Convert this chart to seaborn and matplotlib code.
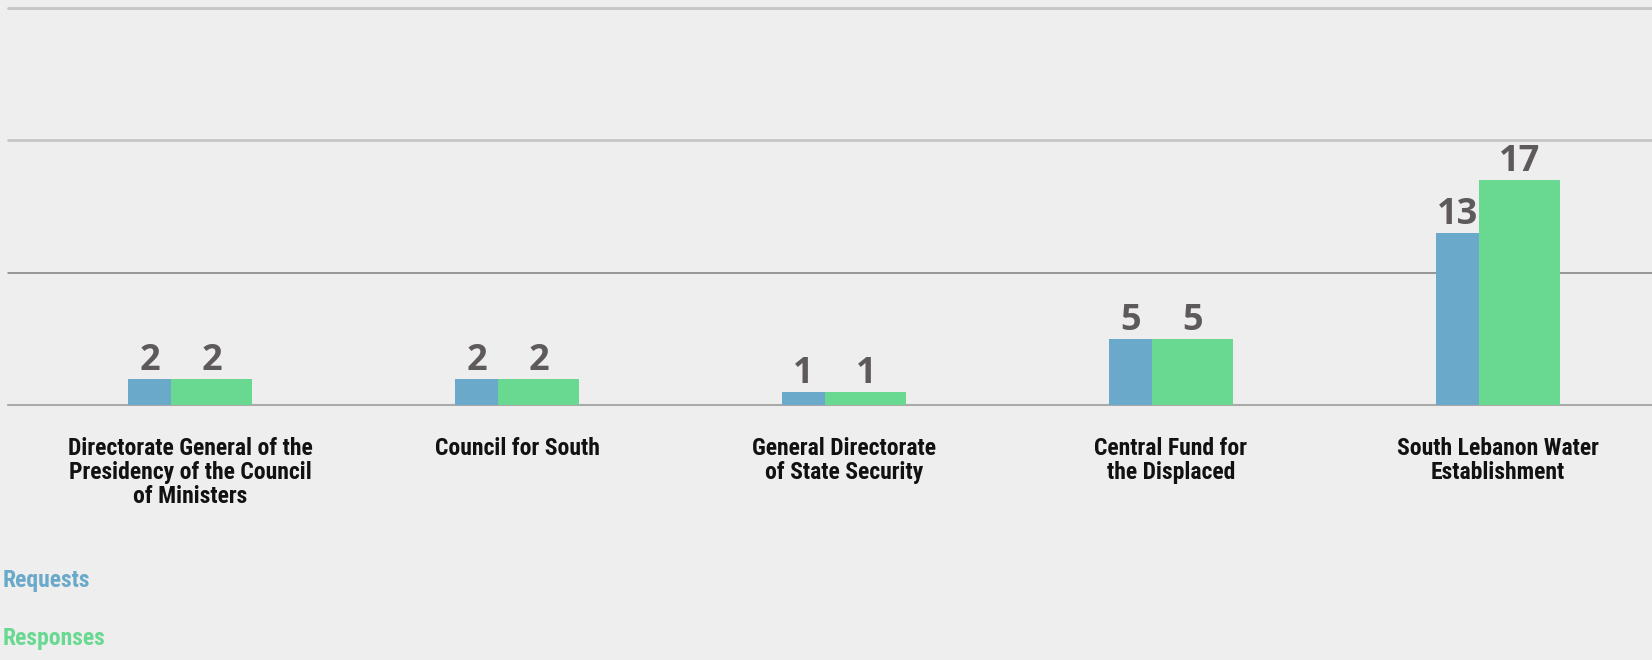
import matplotlib
matplotlib.use("Agg")
import matplotlib.pyplot as plt
import seaborn as sns
import pandas as pd

# ---- data ----
categories = [
    "Directorate General of the\nPresidency of the Council\nof Ministers",
    "Council for South",
    "General Directorate\nof State Security",
    "Central Fund for\nthe Displaced",
    "South Lebanon Water\nEstablishment",
]
series_names = ["Requests", "Responses"]
requests = [2, 2, 1, 5, 13]
responses = [2, 2, 1, 5, 17]
y_ticks = [0, 10, 20, 30]

# ---- style ----
BG = "#eeeeee"
BLUE = "#6aa9c9"
GREEN = "#69d992"
LABEL_FONT = ["Liberation Sans Narrow", "Roboto Condensed", "Open Sans", "DejaVu Sans"]
NUM_FONT = ["Open Sans", "DejaVu Sans"]

df = pd.DataFrame({
    "category": categories * 2,
    "series": [series_names[0]] * len(categories) + [series_names[1]] * len(categories),
    "value": requests + responses,
})

sns.set_theme(style="white")
plt.rcParams["font.family"] = LABEL_FONT

W, H = 1652, 660
fig = plt.figure(figsize=(W / 100, H / 100), dpi=100, facecolor=BG)
ax = fig.add_axes([8 / W, (H - 405) / H, 1 - 8 / W, 397 / H])
ax.set_facecolor(BG)

sns.barplot(data=df, x="category", y="value", hue="series", order=categories,
            hue_order=series_names, palette=[BLUE, GREEN], width=0.38,
            saturation=1, legend=False, ax=ax, linewidth=0, gap=0)

# uneven split between the two bars of each group, as in the reference
blue_frac = 0.35
for b, g in zip(ax.containers[0], ax.containers[1]):
    left = b.get_x()
    total = b.get_width() + g.get_width()
    bw = total * blue_frac
    b.set_width(bw)
    g.set_x(left + bw)
    g.set_width(total - bw)
    b.set_zorder(3)
    g.set_zorder(3)

for c in ax.containers:
    ax.bar_label(c, padding=0, fontsize=26, fontweight="bold", color="#5e5a5b",
                 family=NUM_FONT, zorder=4)

ax.set_xlim((8 - 190) / 327, (W - 190) / 327)
ax.set_ylim(0, 30)
ax.set_yticks(y_ticks)
ax.set_yticklabels([])
ax.yaxis.grid(True)
ax.set_axisbelow(True)
styles = {0: ("#aaaaaa", 1.5), 10: ("#7d7d7d", 1.1), 20: ("#c5c5c5", 2.0), 30: ("#c5c5c5", 2.0)}
for tick, gl in zip(y_ticks, ax.get_ygridlines()):
    col, lw = styles[tick]
    gl.set_color(col)
    gl.set_linewidth(lw)
    gl.set_clip_on(False)
for s in ax.spines.values():
    s.set_visible(False)

ax.set_xlabel("")
ax.set_ylabel("")
ax.tick_params(axis="x", length=0, pad=23)
ax.tick_params(axis="y", length=0)
for lab in ax.get_xticklabels():
    lab.set_fontsize(17)
    lab.set_fontweight("bold")
    lab.set_color("#111111")
    lab.set_linespacing(1.05)
    lab.set_family(LABEL_FONT)

# legend-like labels at the lower left
fig.text(3 / W, 1 - 580 / H, series_names[0], ha="left", va="center",
         color=BLUE, fontsize=17, fontweight="bold", family=LABEL_FONT)
fig.text(3 / W, 1 - 639 / H, series_names[1], ha="left", va="center",
         color=GREEN, fontsize=17, fontweight="bold", family=LABEL_FONT)

fig.savefig("out.png", dpi=100, facecolor=BG)
